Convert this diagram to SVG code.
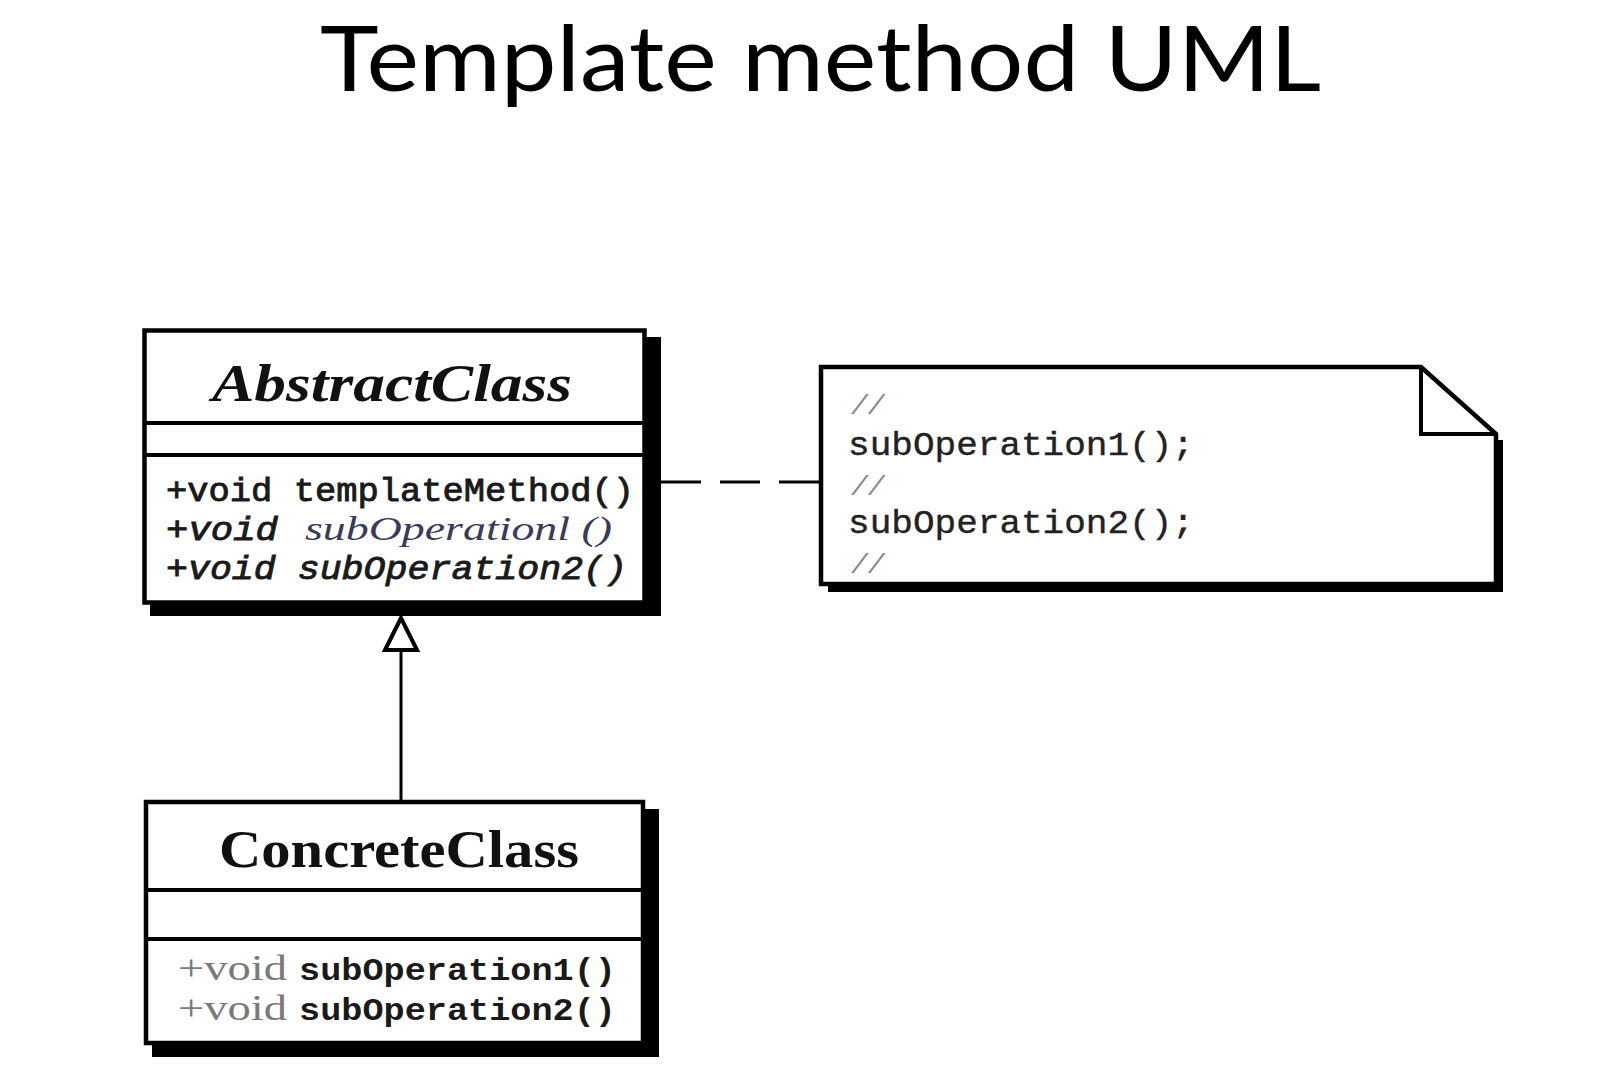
<svg xmlns="http://www.w3.org/2000/svg" width="1618" height="1086" viewBox="0 0 1618 1086">
<style>
.box{fill:#fff;stroke:#000;stroke-width:4.5}
.shadow{fill:#000}
.div{stroke:#000;stroke-width:4;fill:none}
.title{font-family:Lato,"Open Sans",sans-serif;font-size:91px;fill:#000}
.cname{font-family:"Liberation Serif",serif;font-weight:bold;font-size:52px;fill:#111}
.mono{font-family:"Liberation Mono",monospace;font-size:33px;fill:#1a1a1a;stroke:#1a1a1a;stroke-width:0.9}
.monob{font-family:"Liberation Mono",monospace;font-size:32px;fill:#1a1a1a;font-weight:bold}
.monoit{font-family:"Liberation Mono",monospace;font-size:33px;fill:#1a1a1a;font-style:italic;stroke:#1a1a1a;stroke-width:0.9}
.serifit{font-family:"Liberation Serif",serif;font-style:italic;font-size:34px;fill:#3a3a5c}
.thin{font-family:"Liberation Serif",serif;font-size:35px;fill:#7a7a7a}
.note{font-family:"Liberation Mono",monospace;font-size:34px;fill:#222;stroke:#222;stroke-width:0.4}
.cmt{font-family:"Liberation Mono",monospace;font-style:italic;font-size:28px;fill:#888}
.conn{stroke:#000;stroke-width:3;fill:none}
</style>
<defs>
<marker id="inherit" markerUnits="userSpaceOnUse" viewBox="-3 -3 40 40" refX="0" refY="16" markerWidth="40" markerHeight="40" orient="auto" overflow="visible">
<path d="M0,0 L32,16 L0,32 Z" fill="#fff" stroke="#000" stroke-width="4" stroke-linejoin="miter"/>
</marker>
</defs>
<rect width="1618" height="1086" fill="#fff"/>
<g id="title">
<text class="title" x="320" y="91" textLength="1001" lengthAdjust="spacingAndGlyphs">Template method UML</text>
</g>
<g id="abstract-class">
<rect class="shadow" x="150" y="337" width="511" height="279"/>
<rect class="box" x="144.5" y="330.5" width="500" height="272"/>
<line class="div" x1="144" y1="423" x2="645" y2="423"/>
<line class="div" x1="144" y1="455" x2="645" y2="455"/>
<text class="cname" x="212" y="401" font-style="italic" textLength="360" lengthAdjust="spacingAndGlyphs">AbstractClass</text>
<text class="mono" x="166" y="501" textLength="468" lengthAdjust="spacingAndGlyphs">+void templateMethod()</text>
<text class="monoit" x="166" y="540" textLength="112" lengthAdjust="spacingAndGlyphs">+void</text>
<text class="serifit" x="305" y="540" textLength="307" lengthAdjust="spacingAndGlyphs">subOperationl ()</text>
<text class="monoit" x="166" y="579" textLength="461" lengthAdjust="spacingAndGlyphs">+void subOperation2()</text>
</g>
<g id="concrete-class">
<rect class="shadow" x="152" y="809" width="507" height="248"/>
<rect class="box" x="146" y="802" width="497" height="241"/>
<line class="div" x1="146" y1="890" x2="643" y2="890"/>
<line class="div" x1="146" y1="939" x2="643" y2="939"/>
<text class="cname" x="219" y="867" textLength="360" lengthAdjust="spacingAndGlyphs">ConcreteClass</text>
<text class="thin" x="178" y="980" textLength="109" lengthAdjust="spacingAndGlyphs">+void</text>
<text class="monob" x="299" y="980" textLength="317" lengthAdjust="spacingAndGlyphs">subOperation1()</text>
<text class="thin" x="178" y="1020" textLength="109" lengthAdjust="spacingAndGlyphs">+void</text>
<text class="monob" x="299" y="1020" textLength="317" lengthAdjust="spacingAndGlyphs">subOperation2()</text>
</g>
<g id="note">
<rect class="shadow" x="1494" y="440" width="9" height="152"/>
<rect class="shadow" x="828" y="582" width="675" height="10"/>
<path class="box" d="M821,367 L1421,367 L1496,434 L1496,584 L821,584 Z"/>
<path class="div" d="M1421,367 L1421,434 L1496,434"/>
<text class="cmt" x="851" y="414">//</text>
<text class="note" x="848" y="455" textLength="346" lengthAdjust="spacingAndGlyphs">subOperation1();</text>
<text class="cmt" x="851" y="495">//</text>
<text class="note" x="848" y="533" textLength="346" lengthAdjust="spacingAndGlyphs">subOperation2();</text>
<text class="cmt" x="851" y="573">//</text>
</g>
<g id="connectors">
<line class="conn" x1="661" y1="482" x2="821" y2="482" stroke-dasharray="40 19"/>
<line class="conn" x1="401" y1="802" x2="401" y2="650" marker-end="url(#inherit)"/>
</g>
</svg>
